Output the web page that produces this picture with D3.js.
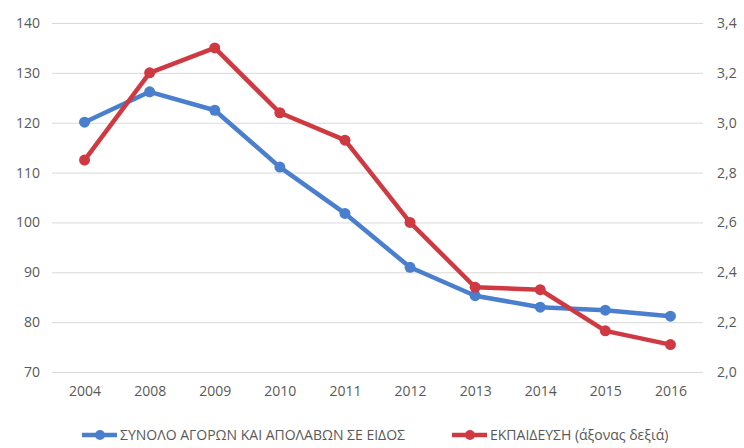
<!DOCTYPE html>
<html>
<head>
<meta charset="utf-8">
<script src="https://cdn.jsdelivr.net/npm/d3@7"></script>
<style>
  body { margin: 0; background: #fff; }
  text { font-family: "Open Sans", sans-serif; fill: #595959; }
</style>
</head>
<body>
<div id="container"></div>
<script>
// data
var years = ["2004", "2008", "2009", "2010", "2011", "2012", "2013", "2014", "2015", "2016"];
var totalInKind = [120.1, 126.2, 122.5, 111.1, 101.8, 91.0, 85.3, 83.0, 82.4, 81.2];
var education = [2.85, 3.20, 3.30, 3.04, 2.93, 2.60, 2.34, 2.33, 2.165, 2.11];
var leftTicks = [70, 80, 90, 100, 110, 120, 130, 140];
var rightTicks = [2.0, 2.2, 2.4, 2.6, 2.8, 3.0, 3.2, 3.4];
var seriesNames = ["ΣΥΝΟΛΟ ΑΓΟΡΩΝ ΚΑΙ ΑΠΟΛΑΒΩΝ ΣΕ ΕΙΔΟΣ", "ΕΚΠΑΙΔΕΥΣΗ (άξονας δεξιά)"];

var width = 744, height = 448;
var margin = {top: 23, right: 41, bottom: 76, left: 52};

var svg = d3.select("#container").append("svg")
    .attr("width", width)
    .attr("height", height);

var x = d3.scalePoint()
    .domain(years)
    .range([margin.left, width - margin.right])
    .padding(0.5);

var yL = d3.scaleLinear().domain([70, 140]).range([height - margin.bottom, margin.top]);
var yR = d3.scaleLinear().domain([2.0, 3.4]).range([height - margin.bottom, margin.top]);

//gridlines
svg.append("g")
    .selectAll("line")
    .data(leftTicks)
    .enter().append("line")
    .attr("x1", margin.left)
    .attr("x2", width - margin.right)
    .attr("y1", function (d) { return yL(d) + 0.5; })
    .attr("y2", function (d) { return yL(d) + 0.5; })
    .attr("stroke", "#d9d9d9")
    .attr("stroke-width", 1);

//left axis
var leftAxis = svg.append("g")
    .attr("transform", "translate(" + (margin.left - 12) + ",0)")
    .call(d3.axisLeft(yL).tickValues(leftTicks).tickSize(0).tickPadding(0));
leftAxis.select(".domain").remove();
leftAxis.selectAll("text").style("font-size", "14px").style("fill", "#595959");

//right axis
var rightAxis = svg.append("g")
    .attr("transform", "translate(" + (width - margin.right + 14) + ",0)")
    .call(d3.axisRight(yR).tickValues(rightTicks).tickSize(0).tickPadding(0)
        .tickFormat(function (d) { return d3.format(".1f")(d).replace(".", ","); }));
rightAxis.select(".domain").remove();
rightAxis.selectAll("text").style("font-size", "14px").style("fill", "#595959");

//x axis
var bottomAxis = svg.append("g")
    .attr("transform", "translate(0," + (height - margin.bottom + 14) + ")")
    .call(d3.axisBottom(x).tickSize(0).tickPadding(0));
bottomAxis.select(".domain").remove();
bottomAxis.selectAll("text").style("font-size", "14px").style("fill", "#595959");

var series = [
    {name: seriesNames[0], values: totalInKind, scale: yL, color: "#4a7fcd"},
    {name: seriesNames[1], values: education, scale: yR, color: "#cf3a42"}
];

series.forEach(function (s) {
    var line = d3.line()
        .x(function (d, i) { return x(years[i]); })
        .y(function (d) { return s.scale(d); });

    svg.append("path")
        .datum(s.values)
        .attr("d", line)
        .attr("fill", "none")
        .attr("stroke", s.color)
        .attr("stroke-width", 4.5)
        .attr("stroke-linejoin", "round");

    svg.append("g")
        .selectAll("circle")
        .data(s.values)
        .enter().append("circle")
        .attr("cx", function (d, i) { return x(years[i]); })
        .attr("cy", function (d) { return s.scale(d); })
        .attr("r", 5.5)
        .attr("fill", s.color);
});

//legend
var legendX = [82, 452];
var legend = svg.append("g")
    .selectAll("g")
    .data(series)
    .enter().append("g")
    .attr("transform", function (d, i) { return "translate(" + legendX[i] + ",435)"; });

legend.append("line")
    .attr("x1", 0).attr("x2", 35)
    .attr("stroke", function (d) { return d.color; })
    .attr("stroke-width", 4.5);
legend.append("circle")
    .attr("cx", 18).attr("r", 5)
    .attr("fill", function (d) { return d.color; });
legend.append("text")
    .attr("x", 38)
    .attr("dy", "0.35em")
    .style("font-size", "14px")
    .text(function (d) { return d.name; });
</script>
</body>
</html>
